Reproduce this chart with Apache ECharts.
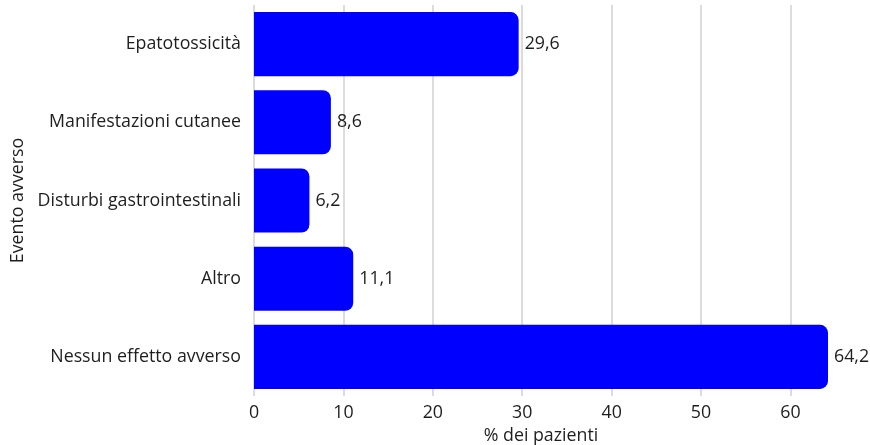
<!DOCTYPE html>
<html>
<head>
<meta charset="utf-8">
<script src="https://cdn.jsdelivr.net/npm/echarts@6/dist/echarts.min.js"></script>
<style>
  html, body { margin: 0; padding: 0; background: #fff; }
  #chart { width: 870px; height: 445px; }
</style>
</head>
<body>
<div id="chart"></div>
<script>
// Adverse events reported, share of patients (%)
const categories = [
  'Epatotossicità',
  'Manifestazioni cutanee',
  'Disturbi gastrointestinali',
  'Altro',
  'Nessun effetto avverso'
];
const percentages = [29.6, 8.6, 6.2, 11.1, 64.2];
const xTicks = [0, 10, 20, 30, 40, 50, 60];

const fontFamily = '"Open Sans", "Noto Sans", sans-serif';
const fontSize = 17.8;
const textColor = '#1e1e1e';

const chart = echarts.init(document.getElementById('chart'), null, { renderer: 'canvas' });
chart.setOption({
  animation: false,
  textStyle: { fontFamily: fontFamily },
  grid: { left: 254, right: 42, top: 5, bottom: 49, containLabel: false, outerBoundsMode: 'none' },
  xAxis: {
    type: 'value',
    min: 0,
    max: 'dataMax',
    interval: 10,
    name: '% dei pazienti',
    nameLocation: 'middle',
    nameGap: 31,
    nameTextStyle: { fontSize: fontSize, color: textColor, fontFamily: fontFamily },
    axisLine: { show: false },
    axisTick: { show: false },
    axisLabel: {
      fontSize: fontSize, color: textColor, fontFamily: fontFamily, margin: 8,
      showMaxLabel: false,
      formatter: v => xTicks.includes(v) ? String(v) : ''
    },
    splitLine: { show: true, showMaxLine: false, lineStyle: { color: '#d0d0d0', width: 1.5 } }
  },
  yAxis: {
    type: 'category',
    inverse: true,
    data: categories,
    name: 'Evento avverso',
    nameLocation: 'middle',
    nameGap: 226,
    nameRotate: 90,
    nameTextStyle: { fontSize: fontSize, color: textColor, fontFamily: fontFamily },
    axisLine: { show: false },
    axisTick: { show: false },
    axisLabel: { fontSize: fontSize, color: textColor, fontFamily: fontFamily, margin: 13 }
  },
  series: [{
    type: 'bar',
    data: percentages,
    barCategoryGap: '18%',
    itemStyle: { color: '#0000ff', borderRadius: [0, 8, 8, 0] },
    label: {
      show: true,
      position: 'right',
      distance: 6,
      fontSize: fontSize,
      color: textColor,
      fontFamily: fontFamily,
      formatter: p => String(p.value).replace('.', ',')
    }
  }]
});
</script>
</body>
</html>
